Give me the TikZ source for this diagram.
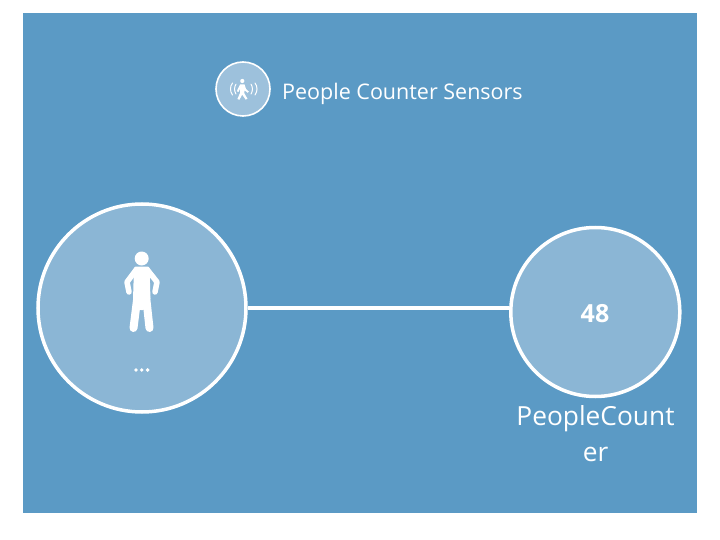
\documentclass[tikz,border=0pt]{standalone}
\usepackage{fontspec}
\setmainfont{Open Sans}
\definecolor{panel}{HTML}{5B9AC5}
\definecolor{disc}{HTML}{8BB6D5}
\definecolor{smalldisc}{HTML}{9DC1DC}
\tikzset{
  disc node/.style={circle,draw=white,line width=3.5pt,fill=disc,inner sep=0pt,text=white},
  wave/.style={draw=white,line width=1pt,line cap=round},
  limb/.style={draw=white,line cap=round,line join=round}
}
\begin{document}
\begin{tikzpicture}[x=1pt,y=-1pt]
\useasboundingbox (0,0) rectangle (720,540);
\fill[panel] (23,13) rectangle (697,513);
\node[disc node,minimum size=208pt] (sensor) at (142,308) {};
\node[disc node,minimum size=169pt] (counter) at (595.3,312) {};
\draw[white,line width=3.5pt] (sensor) -- (sensor -| counter.west);
% legend
\node[circle,draw=white,line width=1.6pt,fill=smalldisc,minimum size=54pt,inner sep=0pt] (legend) at (243,89) {};
\node[anchor=west,inner sep=0pt,text=white,font=\fontsize{21.5pt}{26pt}\selectfont] (legendtext) at (282,94) {People Counter Sensors};
% legend icon
\fill[white] (242.3,81) circle (2.1);
\fill[white] (240,84.5) -- (244.5,84.5) -- (246,89) -- (248.8,91.5) -- (247.8,92.8) -- (244.6,90.4) -- (244.2,93) -- (247.5,98.8) -- (245.6,99.6) -- (242.2,94.6) -- (239.4,99.8) -- (237.4,99) -- (240,93) -- (240.2,88.6) -- (238.4,92) -- (236.8,91.2) -- cycle;
\draw[wave] (232.5,95) arc[start angle=143,end angle=217,radius=10];
\draw[wave] (236,94) arc[start angle=147,end angle=213,radius=9];
\draw[wave] (255,95) arc[start angle=37,end angle=-37,radius=10];
\draw[wave] (251,94) arc[start angle=33,end angle=-33,radius=9];
% person icon
\fill[white] (141.7,258.5) circle (7);
\draw[limb,line width=5.5pt] (136,270) -- (127,282) -- (129,292);
\draw[limb,line width=5.5pt] (147.5,270) -- (157,282) -- (155,292);
\fill[white,rounded corners=2pt] (134,266.5) -- (149.5,266.5) -- (150.5,300) -- (145,310) -- (138.5,310) -- (133,300) -- cycle;
\draw[limb,line width=8pt] (137.5,296) -- (133.5,328);
\draw[limb,line width=8pt] (146,296) -- (149.5,328);
\fill[white] (136,370) circle (1.9) (141.8,370) circle (1.9) (147.6,370) circle (1.9);
% counter text
\node[text=white,inner sep=0pt,font=\fontsize{25pt}{30pt}\selectfont\bfseries] (value) at (595,314) {48};
\node[text=white,inner sep=0pt,font=\fontsize{26.3pt}{36pt}\selectfont,align=center,anchor=north] (name) at (595.5,405) {PeopleCount\\er};
\end{tikzpicture}
\end{document}
